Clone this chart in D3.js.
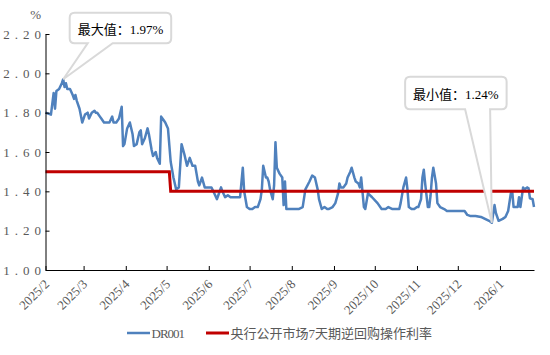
<!DOCTYPE html>
<html>
<head>
<meta charset="utf-8">
<script src="https://cdn.jsdelivr.net/npm/d3@7"></script>
<style>
  body { margin: 0; background: #fff; }
  text { font-family: "Liberation Serif", "Noto Sans CJK SC", serif; }
</style>
</head>
<body>
<script>
var w = 550;
var h = 355;

// DR001 daily values
var dr001 = [
  ["2025-02-05",1.80],["2025-02-09",1.79],["2025-02-11",1.90],["2025-02-12",1.82],["2025-02-13",1.91],["2025-02-15",1.92],["2025-02-17",1.95],["2025-02-18",1.97],["2025-02-19",1.93],["2025-02-20",1.95],["2025-02-21",1.92],["2025-02-23",1.92],["2025-02-25",1.89],["2025-02-26",1.87],["2025-02-27",1.89],["2025-02-28",1.86],
  ["2025-03-02",1.82],["2025-03-04",1.75],["2025-03-06",1.79],["2025-03-08",1.80],["2025-03-09",1.77],["2025-03-11",1.80],["2025-03-13",1.81],["2025-03-14",1.80],["2025-03-15",1.80],["2025-03-17",1.78],["2025-03-18",1.77],["2025-03-20",1.75],["2025-03-22",1.75],["2025-03-24",1.75],["2025-03-26",1.78],["2025-03-27",1.75],["2025-03-29",1.75],["2025-03-31",1.77],
  ["2025-04-02",1.83],["2025-04-03",1.63],["2025-04-04",1.64],["2025-04-06",1.72],["2025-04-08",1.75],["2025-04-10",1.69],["2025-04-11",1.63],["2025-04-13",1.64],["2025-04-15",1.70],["2025-04-16",1.71],["2025-04-17",1.64],["2025-04-19",1.67],["2025-04-21",1.72],["2025-04-22",1.69],["2025-04-24",1.61],["2025-04-25",1.58],["2025-04-27",1.60],["2025-04-28",1.57],["2025-04-30",1.54],
  ["2025-05-01",1.78],["2025-05-03",1.76],["2025-05-04",1.75],["2025-05-06",1.72],["2025-05-08",1.55],["2025-05-10",1.47],["2025-05-12",1.41],["2025-05-14",1.42],["2025-05-16",1.64],["2025-05-18",1.59],["2025-05-20",1.53],["2025-05-21",1.55],["2025-05-22",1.57],["2025-05-24",1.53],["2025-05-26",1.53],["2025-05-27",1.49],["2025-05-28",1.45],["2025-05-29",1.43],["2025-05-31",1.47],
  ["2025-06-02",1.42],["2025-06-03",1.42],["2025-06-05",1.42],["2025-06-07",1.42],["2025-06-09",1.39],["2025-06-11",1.36],["2025-06-12",1.38],["2025-06-14",1.42],["2025-06-15",1.40],["2025-06-17",1.37],["2025-06-19",1.38],["2025-06-21",1.37],["2025-06-23",1.37],["2025-06-26",1.37],["2025-06-28",1.37],["2025-06-30",1.52],
  ["2025-07-01",1.40],["2025-07-03",1.32],["2025-07-05",1.31],["2025-07-07",1.31],["2025-07-09",1.32],["2025-07-11",1.32],["2025-07-13",1.36],["2025-07-14",1.41],["2025-07-15",1.53],["2025-07-17",1.47],["2025-07-18",1.47],["2025-07-19",1.45],["2025-07-20",1.41],["2025-07-22",1.36],["2025-07-23",1.43],["2025-07-24",1.65],["2025-07-25",1.52],["2025-07-27",1.49],["2025-07-29",1.47],["2025-07-30",1.33],["2025-07-31",1.45],
  ["2025-08-01",1.31],["2025-08-03",1.31],["2025-08-05",1.31],["2025-08-08",1.31],["2025-08-10",1.31],["2025-08-13",1.32],["2025-08-15",1.41],["2025-08-18",1.45],["2025-08-20",1.48],["2025-08-22",1.47],["2025-08-24",1.41],["2025-08-25",1.36],["2025-08-27",1.31],["2025-08-29",1.32],["2025-08-31",1.31],
  ["2025-09-01",1.31],["2025-09-04",1.32],["2025-09-06",1.34],["2025-09-08",1.39],["2025-09-09",1.44],["2025-09-10",1.42],["2025-09-12",1.42],["2025-09-14",1.44],["2025-09-15",1.47],["2025-09-17",1.50],["2025-09-18",1.52],["2025-09-20",1.47],["2025-09-21",1.45],["2025-09-23",1.44],["2025-09-24",1.42],["2025-09-25",1.47],["2025-09-27",1.32],["2025-09-28",1.31],["2025-09-30",1.39],
  ["2025-10-03",1.37],["2025-10-07",1.34],["2025-10-10",1.31],["2025-10-13",1.31],["2025-10-15",1.32],["2025-10-18",1.31],["2025-10-20",1.31],["2025-10-23",1.31],["2025-10-24",1.34],["2025-10-26",1.42],["2025-10-28",1.47],["2025-10-29",1.41],["2025-10-30",1.32],
  ["2025-11-01",1.31],["2025-11-03",1.31],["2025-11-05",1.32],["2025-11-06",1.32],["2025-11-08",1.36],["2025-11-09",1.47],["2025-11-10",1.51],["2025-11-11",1.44],["2025-11-13",1.32],["2025-11-14",1.32],["2025-11-15",1.38],["2025-11-16",1.47],["2025-11-17",1.52],["2025-11-19",1.44],["2025-11-20",1.34],["2025-11-22",1.32],["2025-11-25",1.31],["2025-11-27",1.30],
  ["2025-12-01",1.30],["2025-12-03",1.30],["2025-12-07",1.30],["2025-12-10",1.30],["2025-12-12",1.28],["2025-12-14",1.275],["2025-12-18",1.275],["2025-12-22",1.27],["2025-12-25",1.26],["2025-12-28",1.25],["2025-12-30",1.24],
  ["2026-01-01",1.33],["2026-01-02",1.29],["2026-01-04",1.25],["2026-01-07",1.26],["2026-01-09",1.27],["2026-01-11",1.30],["2026-01-13",1.39],["2026-01-14",1.40],["2026-01-15",1.32],["2026-01-18",1.32],["2026-01-19",1.37],["2026-01-20",1.32],["2026-01-21",1.37],["2026-01-22",1.42],["2026-01-23",1.41],["2026-01-25",1.42],["2026-01-26",1.415],["2026-01-27",1.365],["2026-01-29",1.36],["2026-01-30",1.32]
];

// 7-day reverse repo rate (step on 2025-05-08)
var repoRate = [
  ["2025-02-05",1.50],["2025-05-07",1.50],["2025-05-08",1.40],["2026-01-30",1.40]
];

var xTickDates = ["2025-02-05","2025-03-05","2025-04-05","2025-05-05","2025-06-05","2025-07-05",
                  "2025-08-05","2025-09-05","2025-10-05","2025-11-05","2025-12-05","2026-01-05"];
var yTicks = [1.00, 1.20, 1.40, 1.60, 1.80, 2.00, 2.20];
var seriesNames = ["DR001", "央行公开市场7天期逆回购操作利率"];
var seriesColors = ["#4f81bd", "#c00000"];

var parse = d3.timeParse("%Y-%m-%d");
var blue = dr001.map(function(d) { return { date: parse(d[0]), value: d[1] }; });
var red = repoRate.map(function(d) { return { date: parse(d[0]), value: d[1] }; });

var xScale = d3.scaleTime()
  .domain([parse("2025-02-05"), parse("2026-01-30")])
  .range([45.5, 534]);

var yScale = d3.scaleLinear()
  .domain([1.0, 2.2])
  .range([270, 34]);

var svg = d3.select("body")
  .append("svg")
  .attr("width", w)
  .attr("height", h);

var line = d3.line()
  .x(function(d) { return xScale(d.date); })
  .y(function(d) { return yScale(d.value); });

// DR001 line
svg.append("path")
  .datum(blue)
  .attr("fill", "none")
  .attr("stroke", seriesColors[0])
  .attr("stroke-width", 2.5)
  .attr("stroke-linejoin", "round")
  .attr("d", line);

// repo rate line, on top
svg.append("path")
  .datum(red)
  .attr("fill", "none")
  .attr("stroke", seriesColors[1])
  .attr("stroke-width", 3)
  .attr("d", line);

// Y-axis
var yAxis = d3.axisLeft(yScale)
  .tickValues(yTicks)
  .tickFormat(d3.format(".2f"))
  .tickSizeInner(-4)
  .tickSizeOuter(0);

var gy = svg.append("g")
  .attr("transform", "translate(45.5,0)")
  .call(yAxis);
gy.select(".domain").attr("stroke", "#000");
gy.selectAll(".tick line").attr("stroke", "#000");
gy.selectAll(".tick text")
  .attr("x", 0.5)
  .attr("fill", "#595959")
  .style("font-size", "13px")
  .style("letter-spacing", "5px")
  .style("font-family", "'Liberation Serif', serif");

// X-axis
var xAxis = d3.axisBottom(xScale)
  .tickValues(xTickDates.map(parse))
  .tickFormat(d3.timeFormat("%Y/%-m"))
  .tickSizeInner(-4)
  .tickSizeOuter(0);

var gx = svg.append("g")
  .attr("transform", "translate(0,270)")
  .call(xAxis);
gx.select(".domain").attr("stroke", "#000");
gx.selectAll(".tick line").attr("stroke", "#000");
gx.selectAll(".tick text")
  .attr("x", 0)
  .attr("y", 0)
  .attr("dy", 0)
  .attr("transform", "translate(4,15) rotate(-45)")
  .attr("text-anchor", "end")
  .attr("fill", "#595959")
  .style("font-size", "13px")
  .style("font-family", "'Liberation Serif', serif");

// unit label
svg.append("text")
  .attr("x", 41)
  .attr("y", 18.5)
  .attr("text-anchor", "end")
  .attr("fill", "#595959")
  .style("font-size", "13px")
  .text("%");

// Legend
var legendX = [127, 206];
var legend = svg.selectAll(".legend")
  .data(seriesNames)
  .enter()
  .append("g")
  .attr("class", "legend")
  .attr("transform", function(d, i) { return "translate(" + legendX[i] + ",333)"; });

legend.append("line")
  .attr("x1", 0)
  .attr("x2", 23)
  .attr("stroke", function(d, i) { return seriesColors[i]; })
  .attr("stroke-width", function(d, i) { return i === 0 ? 2.5 : 3; });

legend.append("text")
  .attr("x", 24.5)
  .attr("y", 5)
  .attr("fill", "#595959")
  .style("font-size", "13px")
  .style("letter-spacing", function(d, i) { return i === 0 ? "-1px" : "0px"; })
  .text(function(d) { return d; });

// Callouts: rounded box with a wedge pointing at the point
function calloutPath(x, y, bw, bh, r, b1, b2, tx, ty) {
  return "M" + (x + r) + "," + y +
    "H" + (x + bw - r) + "Q" + (x + bw) + "," + y + " " + (x + bw) + "," + (y + r) +
    "V" + (y + bh - r) + "Q" + (x + bw) + "," + (y + bh) + " " + (x + bw - r) + "," + (y + bh) +
    "H" + (x + b2) + "L" + tx + "," + ty + "L" + (x + b1) + "," + (y + bh) +
    "H" + (x + r) + "Q" + x + "," + (y + bh) + " " + x + "," + (y + bh - r) +
    "V" + (y + r) + "Q" + x + "," + y + " " + (x + r) + "," + y + "Z";
}

var maxPt = d3.greatest(blue, function(d) { return d.value; });
var minPt = d3.least(blue, function(d) { return d.value; });

var callouts = [
  { pt: maxPt, label: "最大值：", dx: 6.5, dy: -66.5, bh: 30.5, b1: 18, b2: 43 },
  { pt: minPt, label: "最小值：", dx: -86.7, dy: -146, bh: 32.5, b1: 60, b2: 85 }
];

callouts.forEach(function(c) {
  var tx = xScale(c.pt.date);
  var ty = yScale(c.pt.value);
  var bx = tx + c.dx;
  var by = ty + c.dy;
  var bw = 101.5;
  svg.append("path")
    .attr("d", calloutPath(bx, by, bw, c.bh, 5, c.b1, c.b2, tx, ty))
    .attr("fill", "#fff")
    .attr("stroke", "#d9d9d9")
    .attr("stroke-width", 2);
  svg.append("text")
    .attr("x", bx + bw / 2)
    .attr("y", by + c.bh / 2 + 6)
    .attr("text-anchor", "middle")
    .attr("fill", "#000")
    .style("font-size", "13px")
    .text(c.label + d3.format(".2f")(c.pt.value) + "%");
});
</script>
</body>
</html>
